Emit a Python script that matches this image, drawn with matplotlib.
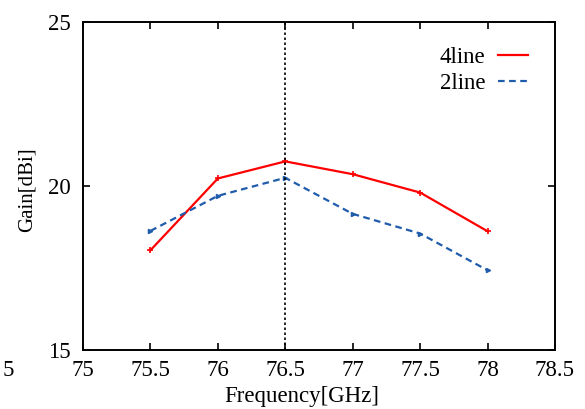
import matplotlib
matplotlib.use("Agg")
import matplotlib.pyplot as plt

plt.rcParams['font.family'] = ['Liberation Serif', 'DejaVu Serif']

freq = [75.5, 76.0, 76.5, 77.0, 77.5, 78.0]
gain_4line = [18.04, 20.23, 20.75, 20.36, 19.80, 18.62]
gain_2line = [18.63, 19.70, 20.25, 19.15, 18.55, 17.43]
marker_freq = 76.5

xticks = [75, 75.5, 76, 76.5, 77, 77.5, 78, 78.5]
yticks = [15, 20, 25]

fs = 16.5

fig = plt.figure(figsize=(5.85, 4.09), dpi=100)
ax = fig.add_axes([83 / 585, 1 - 350 / 409, (555 - 83) / 585, (350 - 22) / 409])

ax.plot(freq, gain_4line, color='#ff0000', lw=1.6, marker='+', ms=4, mew=1.2, label='4line')
ax.plot(freq, gain_2line, color='#1f5cab', lw=1.6, ls=(0, (3, 2)), marker='>', ms=3, label='2line')
ax.axvline(marker_freq, color='black', lw=1.2, ls=(0, (1.5, 1.5)))

ax.set_xlim(75, 78.5)
ax.set_ylim(15, 25)
ax.set_xticks(xticks)
ax.set_xticklabels([f"{t:g}" for t in xticks])
ax.set_yticks(yticks)
ax.tick_params(direction='in', top=True, right=True, labelsize=fs, length=5, width=1.2)
ax.tick_params(axis='x', pad=7)
ax.tick_params(axis='y', pad=9)
for s in ax.spines.values():
    s.set_linewidth(1.4)

ax.set_xlabel('Frequency[GHz]', fontsize=fs)
ax.xaxis.set_label_coords(0.464, -0.11)
ax.set_ylabel('Gain[dBi]', fontsize=15)
ax.yaxis.set_label_coords(-0.098, 0.488)

leg = ax.legend(loc='upper right', frameon=False, markerfirst=False, fontsize=fs,
                handlelength=1.3, handletextpad=0.57, borderaxespad=0,
                bbox_to_anchor=(0.962, 0.951), labelspacing=0.2)
for h in leg.legend_handles:
    h.set_marker('')

# clipped tick label at the far left, as in the original export
fig.text(8 / 585, 1 - 371 / 409, '5', fontsize=fs, ha='center', va='center')

fig.savefig('out.png', dpi=100)
